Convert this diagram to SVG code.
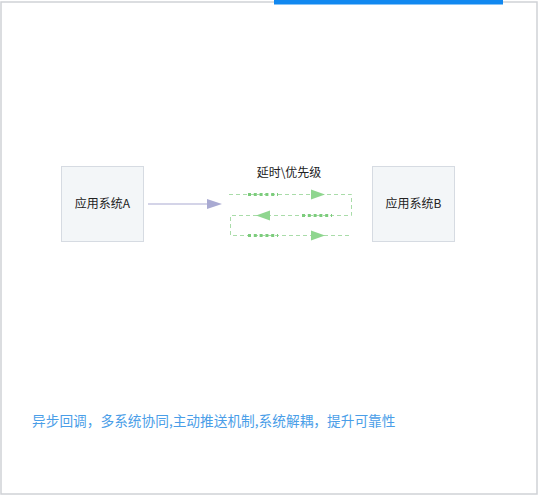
<svg xmlns="http://www.w3.org/2000/svg" width="538" height="502" viewBox="0 0 538 502">
<defs>
<style>
.node{fill:#f3f6f8;stroke:#d6dbe2;stroke-width:1}
.lbl{font-family:"Noto Sans CJK SC","Liberation Sans",sans-serif;font-size:12px;fill:#222}
.dash{fill:none;stroke:#a9dca9;stroke-width:1;stroke-dasharray:4 3}
.dot{fill:none;stroke:#7ccc7c;stroke-width:3;stroke-dasharray:3 2.8}
.ah{fill:#8fd68f}
</style>
</defs>
<rect x="0" y="0" width="538" height="502" fill="#ffffff"/>
<rect x="1" y="2" width="536" height="492" fill="none" stroke="#cfd2d6" stroke-width="1.5"/>
<rect x="274" y="0" width="229" height="4.5" fill="#1188f0"/>
<g id="nodeA">
<rect class="node" x="61.5" y="166.5" width="82" height="75"/>
<text class="lbl" x="102.5" y="208" text-anchor="middle">应用系统A</text>
</g>
<g id="nodeB">
<rect class="node" x="372.5" y="166.5" width="82" height="75"/>
<text class="lbl" x="413.5" y="208" text-anchor="middle">应用系统B</text>
</g>
<g id="connectors">
<line x1="148" y1="204" x2="209" y2="204" stroke="#a9aad2" stroke-width="1.2"/>
<polygon points="207,199 222,204 207,209" fill="#a9aad2"/>
<path class="dash" d="M229,194.5 H351.5 V215.5 H230.5 V235.5 H352"/>
<line class="dot" x1="248" y1="194.5" x2="278" y2="194.5"/>
<line class="dot" x1="302" y1="215.5" x2="332" y2="215.5"/>
<line class="dot" x1="248" y1="235.5" x2="278" y2="235.5"/>
<polygon class="ah" points="311,189.5 325,194.5 311,199.5"/>
<polygon class="ah" points="270,210.5 256,215.5 270,220.5"/>
<polygon class="ah" points="311,230.5 325,235.5 311,240.5"/>
<text class="lbl" x="289" y="177" text-anchor="middle" fill="#333">延时\优先级</text>
</g>
<text x="32" y="426" font-family="Noto Sans CJK SC,Liberation Sans,sans-serif" font-size="13.7" fill="#4a9ee8">异步回调，多系统协同,主动推送机制,系统解耦，提升可靠性</text>
</svg>
